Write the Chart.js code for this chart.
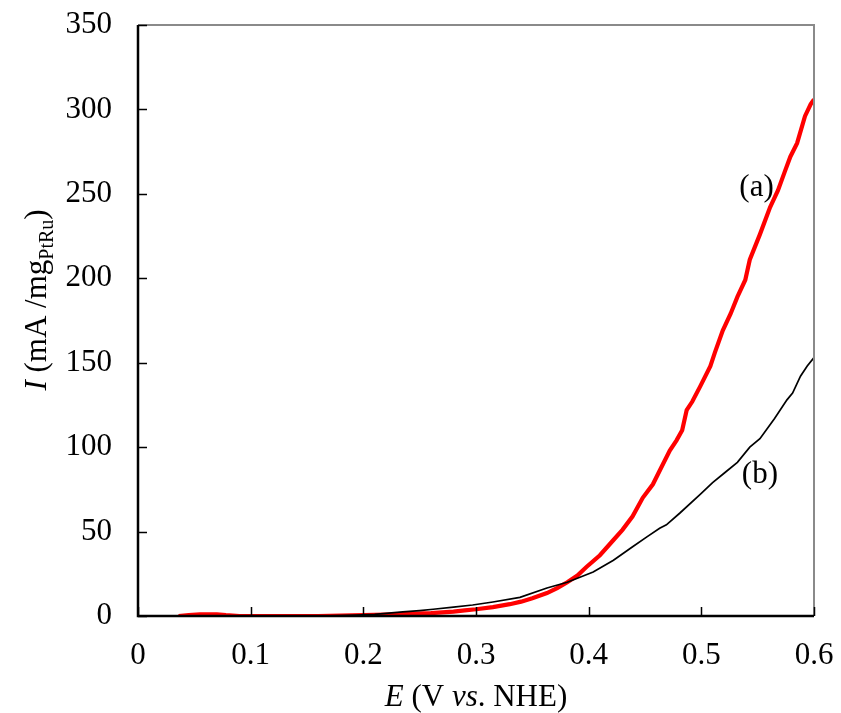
<!DOCTYPE html>
<html>
<head>
<meta charset="utf-8">
<script src="https://cdn.jsdelivr.net/npm/chart.js@4.4.1/dist/chart.umd.min.js"></script>
<style>
  html, body { margin: 0; padding: 0; background: #fff; }
  #wrap { width: 841px; height: 713px; }
</style>
</head>
<body>
<div id="wrap"><canvas id="c" width="841" height="713"></canvas></div>
<script>
// Potential (V vs. NHE) and current density (mA / mg PtRu)
const potentialA = [0.036, 0.045, 0.055, 0.07, 0.078, 0.09, 0.1, 0.12, 0.14, 0.16, 0.18, 0.2, 0.22, 0.24, 0.26, 0.28, 0.29, 0.30, 0.315, 0.33, 0.34, 0.35, 0.363, 0.372, 0.381, 0.39, 0.398, 0.41, 0.422, 0.43, 0.439, 0.448, 0.457, 0.463, 0.472, 0.478, 0.483, 0.487, 0.492, 0.499, 0.508, 0.512, 0.519, 0.526, 0.532, 0.539, 0.543, 0.552, 0.561, 0.568, 0.574, 0.579, 0.585, 0.592, 0.597, 0.6];
const currentA = [0, 0.6, 1, 1, 0.5, 0, 0, 0, 0, 0, 0.2, 0.5, 0.8, 1.2, 1.7, 2.6, 3.3, 4, 5.3, 7, 8.5, 10.5, 13.6, 16.5, 20, 24, 29, 36, 45, 51, 59, 70, 78, 86, 98, 104, 110, 122, 127, 136, 148, 156, 169, 179, 189, 199, 211, 226, 242, 252, 263, 272, 280, 296, 303, 306];

const potentialB = [0.036, 0.06, 0.09, 0.105, 0.125, 0.146, 0.16, 0.18, 0.194, 0.21, 0.235, 0.25, 0.262, 0.28, 0.297, 0.315, 0.339, 0.363, 0.381, 0.404, 0.422, 0.439, 0.452, 0.463, 0.469, 0.481, 0.499, 0.51, 0.521, 0.532, 0.543, 0.552, 0.565, 0.576, 0.581, 0.588, 0.594, 0.6];
const currentB = [0, 0, 0, -0.6, -0.6, -0.4, 0, 0.2, 0.5, 1, 2.4, 3.2, 4, 5.3, 6.5, 8.3, 11, 16.6, 20, 26, 33, 41, 47, 52, 54, 61, 72, 79, 85, 91, 100, 105, 117, 128, 132, 142, 148, 153];

const xTicks = [0, 0.1, 0.2, 0.3, 0.4, 0.5, 0.6];
const yTicks = [0, 50, 100, 150, 200, 250, 300, 350];

// Curve labels and where they sit (data coordinates)
const curveLabels = ['(a)', '(b)'];
const curveLabelPos = [[0.549, 249], [0.552, 79]];

const SERIF = '"Liberation Serif", "Times New Roman", serif';
const FS = 31;

const toPoints = (xs, ys) => xs.map((x, i) => ({ x: x, y: ys[i] }));

function drawRun(ctx, parts, cx, baseline) {
  let total = 0;
  parts.forEach(p => { ctx.font = p.f; p.w = ctx.measureText(p.t).width; total += p.w; });
  let x = cx - total / 2;
  ctx.textAlign = 'left';
  parts.forEach(p => {
    ctx.font = p.f;
    ctx.fillText(p.t, x, baseline + (p.dy || 0));
    x += p.w;
  });
}

// Frame, inward ticks, axis titles and curve labels
const decorPlugin = {
  id: 'decor',
  afterDatasetsDraw(chart) {
    const { ctx, chartArea: a, scales } = chart;
    const xs = scales.x, ys = scales.y;
    ctx.save();
    // top and right frame in grey
    ctx.strokeStyle = '#8a8a8a';
    ctx.lineWidth = 2;
    ctx.beginPath();
    ctx.moveTo(a.left, a.top);
    ctx.lineTo(a.right, a.top);
    ctx.lineTo(a.right, a.bottom);
    ctx.stroke();
    // left and bottom axes in black
    ctx.strokeStyle = '#000';
    ctx.lineWidth = 2.5;
    ctx.beginPath();
    ctx.moveTo(a.left, a.top);
    ctx.lineTo(a.left, a.bottom);
    ctx.lineTo(a.right, a.bottom);
    ctx.stroke();
    // inward tick marks
    ctx.lineWidth = 1.5;
    ctx.beginPath();
    yTicks.forEach(v => {
      const y = Math.round(ys.getPixelForValue(v)) + 0.5;
      ctx.moveTo(a.left, y);
      ctx.lineTo(a.left + 9, y);
    });
    xTicks.forEach(v => {
      const x = Math.round(xs.getPixelForValue(v)) + 0.5;
      ctx.moveTo(x, a.bottom);
      ctx.lineTo(x, a.bottom - 9);
    });
    ctx.stroke();

    ctx.fillStyle = '#000';
    ctx.textBaseline = 'alphabetic';
    // curve labels
    ctx.font = FS + 'px ' + SERIF;
    ctx.textAlign = 'center';
    curveLabels.forEach((t, i) => {
      const p = curveLabelPos[i];
      ctx.fillText(t, xs.getPixelForValue(p[0]), ys.getPixelForValue(p[1]));
    });

    // x-axis title with mixed italics
    drawRun(ctx, [
      { t: 'E', f: 'italic ' + FS + 'px ' + SERIF },
      { t: ' (V ', f: FS + 'px ' + SERIF },
      { t: 'vs', f: 'italic ' + FS + 'px ' + SERIF },
      { t: '. NHE)', f: FS + 'px ' + SERIF }
    ], (a.left + a.right) / 2, 706);

    // y-axis title, rotated, with subscript
    ctx.save();
    ctx.translate(46, 300);
    ctx.rotate(-Math.PI / 2);
    drawRun(ctx, [
      { t: 'I', f: 'italic ' + FS + 'px ' + SERIF },
      { t: ' (mA /mg', f: FS + 'px ' + SERIF },
      { t: 'PtRu', f: '20px ' + SERIF, dy: 7 },
      { t: ')', f: FS + 'px ' + SERIF }
    ], 0, 0);
    ctx.restore();
    ctx.restore();
  }
};

function noOverflow(s) {
  s.paddingLeft = 0; s.paddingRight = 0; s.paddingTop = 0; s.paddingBottom = 0;
}

new Chart(document.getElementById('c'), {
  type: 'scatter',
  data: {
    datasets: [
      {
        label: '(b)',
        data: toPoints(potentialB, currentB),
        showLine: true,
        borderColor: '#000',
        borderWidth: 1.7,
        pointRadius: 0,
        tension: 0
      },
      {
        label: '(a)',
        data: toPoints(potentialA, currentA),
        showLine: true,
        borderColor: '#ff0000',
        borderWidth: 4.2,
        pointRadius: 0,
        tension: 0
      }
    ]
  },
  options: {
    responsive: false,
    animation: false,
    events: [],
    layout: { padding: { top: 25, right: 27, left: 0, bottom: 0 } },
    plugins: { legend: { display: false }, tooltip: { enabled: false } },
    scales: {
      x: {
        type: 'linear',
        min: 0, max: 0.6,
        grid: { display: false, drawTicks: false },
        border: { display: false },
        afterFit(s) { s.height = 97; noOverflow(s); },
        afterBuildTicks(s) { s.ticks = xTicks.map(v => ({ value: v })); },
        ticks: {
          padding: 21,
          color: '#000',
          font: { family: SERIF, size: FS },
          maxRotation: 0,
          callback: v => String(v)
        }
      },
      y: {
        type: 'linear',
        min: 0, max: 350,
        grid: { display: false, drawTicks: false },
        border: { display: false },
        afterFit(s) { s.width = 138; noOverflow(s); },
        afterBuildTicks(s) { s.ticks = yTicks.map(v => ({ value: v })); },
        ticks: {
          padding: 26,
          color: '#000',
          font: { family: SERIF, size: FS },
          callback: v => String(v)
        }
      }
    }
  },
  plugins: [decorPlugin]
});
</script>
</body>
</html>
